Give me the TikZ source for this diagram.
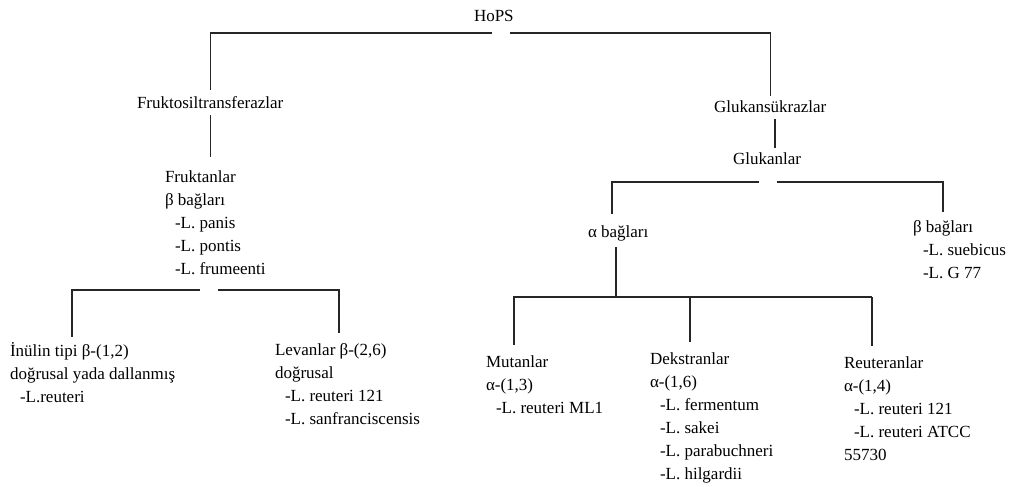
\documentclass[tikz,border=0pt]{standalone}
\usepackage{fontspec}
\setmainfont{Liberation Serif}
\newcommand\myind{\hspace*{7.5pt}}
\tikzset{
  lbl/.style={inner sep=0pt, outer sep=0pt, anchor=north west, align=left,
              font=\fontsize{12.75}{17.25}\selectfont},
  conn/.style={draw=black!85, line width=0.9pt},
}
\begin{document}
\begin{tikzpicture}[x=0.75pt, y=-0.75pt]
\useasboundingbox (0,0) rectangle (1016,486);
% nodes
\node[lbl] (hops)   at (474,5)   {\strut HoPS};
\node[lbl] (frukto) at (137,92)  {\strut Fruktosiltransferazlar};
\node[lbl] (fruktan) at (165,166) {\strut Fruktanlar\\β bağları\\\myind-L. panis\\\myind-L. pontis\\\myind-L. frumeenti};
\node[lbl] (inulin) at (10,340)  {\strut İnülin tipi β-(1,2)\\doğrusal yada dallanmış\\\myind-L.reuteri};
\node[lbl] (levan)  at (275,339) {\strut Levanlar β-(2,6)\\doğrusal\\\myind-L. reuteri 121\\\myind-L. sanfranciscensis};
\node[lbl] (glsuk)  at (714,96)  {\strut Glukansükrazlar};
\node[lbl] (glukan) at (733,148) {\strut Glukanlar};
\node[lbl] (alpha)  at (588,221) {\strut α bağları};
\node[lbl] (betab)  at (913,216) {\strut β bağları\\\myind-L. suebicus\\\myind-L. G 77};
\node[lbl] (mutan)  at (486,351) {\strut Mutanlar\\α-(1,3)\\\myind-L. reuteri ML1};
\node[lbl] (dekst)  at (650,348) {\strut Dekstranlar\\α-(1,6)\\\myind-L. fermentum\\\myind-L. sakei\\\myind-L. parabuchneri\\\myind-L. hilgardii};
\node[lbl] (reuter) at (844,352) {\strut Reuteranlar\\α-(1,4)\\\myind-L. reuteri 121\\\myind-L. reuteri ATCC\\55730};
% connector coordinates
\coordinate (t1) at (492,33);  \coordinate (t2) at (510,33);
\coordinate (f1) at (200,290); \coordinate (f2) at (218,290);
\coordinate (fl) at (72,290);  \coordinate (fr) at (339,290);
\coordinate (gv) at (775,0);
\coordinate (k1) at (759,182); \coordinate (k2) at (777,182);
\coordinate (kl) at (612,182); \coordinate (kr) at (943,182);
\coordinate (b0) at (616,297); \coordinate (b1) at (514,297);
\coordinate (b2) at (690,297); \coordinate (b3) at (872,297);
% connectors
\draw[conn, shorten >=1.5pt] (t1) -| (frukto.north);
\draw[conn] (t2) -| (glsuk.north);
\draw[conn, shorten >=6.75pt] (frukto.south) -- (frukto.south |- fruktan.north);
\draw[conn, shorten >=2.25pt] (f1) -- (fl) -- (fl |- inulin.north);
\draw[conn, shorten >=4.5pt] (f2) -- (fr) -- (fr |- levan.north);
\draw[conn] (glsuk.south -| gv) -- (glukan.north -| gv);
\draw[conn, shorten >=5.25pt] (k1) -- (kl) -- (kl |- alpha.north);
\draw[conn, shorten >=3pt] (k2) -- (kr) -- (kr |- betab.north);
\draw[conn, shorten <=2.25pt] (alpha.south -| b0) -- (b0);
\draw[conn, shorten >=4.5pt] (b3) -- (b1) -- (b1 |- mutan.north);
\draw[conn, shorten >=4.5pt] (b3) -- (b3 |- reuter.north);
\draw[conn, shorten >=4.5pt] (b2) -- (b2 |- dekst.north);
\end{tikzpicture}
\end{document}
